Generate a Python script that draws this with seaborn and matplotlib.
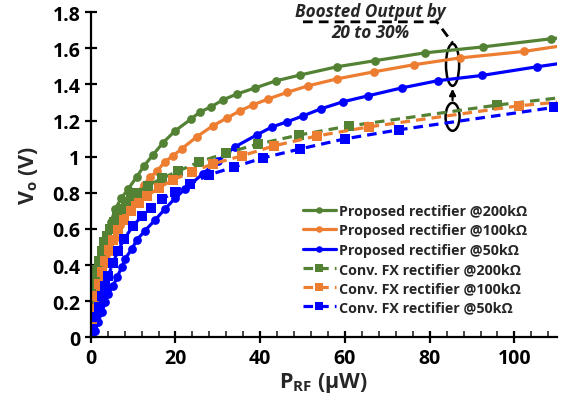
import matplotlib
matplotlib.use("Agg")
import matplotlib.pyplot as plt
import seaborn as sns
from matplotlib.patches import Ellipse

# ---------------- data ----------------
green_prop_x = [0.1, 0.4, 0.8, 1.3, 1.8, 2.4, 3.1, 3.9, 4.8, 5.8, 7.2, 8.8, 10.9, 12.6, 14.7, 17.0,
                19.9, 23.7, 25.8, 28.4, 31.2, 34.6, 38.8, 43.7, 49.5, 58.1, 67.1, 78.8, 92.5, 108.6, 127.5]
green_prop_y = [0.0, 0.08, 0.16, 0.25, 0.33, 0.41, 0.49, 0.57, 0.64, 0.71, 0.77, 0.82, 0.89, 0.95, 1.01, 1.076,
                1.143, 1.209, 1.248, 1.276, 1.315, 1.348, 1.381, 1.42, 1.453, 1.498, 1.532, 1.575, 1.608, 1.653, 1.70]

orange_prop_x = [0.2, 0.6, 1.1, 1.7, 2.3, 3.0, 3.8, 4.7, 5.7, 6.9, 8.2, 9.6, 11.0, 12.5, 14.0, 15.7, 17.5,
                 19.4, 21.5, 25.0, 28.8, 32.2, 35.2, 38.3, 41.9, 46.3, 51.2, 58.1, 66.8, 76.2, 87.1, 102.2, 120.0]
orange_prop_y = [0.0, 0.06, 0.13, 0.2, 0.27, 0.34, 0.41, 0.48, 0.55, 0.62, 0.69, 0.75, 0.8, 0.845, 0.885, 0.922, 0.972,
                 1.005, 1.044, 1.11, 1.171, 1.215, 1.254, 1.287, 1.32, 1.356, 1.392, 1.431, 1.47, 1.509, 1.547, 1.583, 1.645]

blue_prop_x = [0.3, 1.0, 1.7, 2.7, 3.4, 4.1, 5.3, 6.2, 7.4, 8.1, 9.7, 10.9, 12.8, 15.2, 17.5, 19.9, 22.2,
               26.5, 30.0, 34.0, 39.2, 42.8, 46.3, 50.1, 54.3, 59.5, 65.4, 73.4, 81.9, 92.3, 105.3, 125.0]
blue_prop_y = [0.0, 0.035, 0.085, 0.14, 0.196, 0.24, 0.284, 0.334, 0.39, 0.434, 0.489, 0.54, 0.59, 0.65, 0.71, 0.77, 0.82,
               0.906, 0.977, 1.054, 1.121, 1.165, 1.193, 1.226, 1.265, 1.304, 1.337, 1.381, 1.421, 1.45, 1.498, 1.565]

green_conv_x = [0.0, 0.1, 0.3, 0.6, 1.0, 1.5, 2.0, 2.6, 3.2, 3.9, 4.6, 5.4, 6.3, 7.2, 8.3, 9.5, 10.9,
                13.5, 16.8, 20.6, 25.5, 31.9, 39.5, 49.1, 60.9, 95.9, 130.0]
green_conv_y = [0.0, 0.14, 0.21, 0.27, 0.32, 0.37, 0.42, 0.48, 0.53, 0.56, 0.6, 0.64, 0.68, 0.71, 0.75, 0.78, 0.8,
                0.84, 0.88, 0.92, 0.97, 1.02, 1.07, 1.12, 1.17, 1.286, 1.38]

orange_conv_x = [0.0, 0.3, 0.8, 1.3, 1.9, 2.7, 3.4, 4.3, 5.3, 6.4, 7.8, 9.5, 11.4, 13.3, 16.1, 19.4,
                 23.9, 28.9, 35.7, 43.2, 53.4, 65.6, 101.0, 130.0]
orange_conv_y = [0.0, 0.085, 0.157, 0.229, 0.295, 0.362, 0.423, 0.484, 0.539, 0.595, 0.65, 0.7, 0.745, 0.783, 0.828, 0.872,
                 0.916, 0.961, 1.005, 1.06, 1.115, 1.165, 1.282, 1.346]

blue_conv_x = [0.0, 0.55, 1.2, 1.9, 2.6, 3.4, 4.1, 5.3, 6.4, 7.9, 10.0, 12.1, 14.2, 16.8, 19.9, 23.4,
               27.9, 33.8, 40.6, 49.4, 60.0, 72.7, 109.3]
blue_conv_y = [0.0, 0.045, 0.113, 0.168, 0.229, 0.284, 0.34, 0.412, 0.478, 0.545, 0.617, 0.672, 0.716, 0.766, 0.805, 0.849,
               0.899, 0.943, 0.993, 1.043, 1.099, 1.149, 1.273]

labels = ["Proposed rectifier @200kΩ", "Proposed rectifier @100kΩ", "Proposed rectifier @50kΩ",
          "Conv. FX rectifier @200kΩ", "Conv. FX rectifier @100kΩ", "Conv. FX rectifier @50kΩ"]
x_ticks = [0, 20, 40, 60, 80, 100]
y_ticks = [0, 0.2, 0.4, 0.6, 0.8, 1, 1.2, 1.4, 1.6, 1.8]
y_tick_labels = ["0", "0.2", "0.4", "0.6", "0.8", "1", "1.2", "1.4", "1.6", "1.8"]

# ---------------- style ----------------
sns.set_style("white")
FONT = "Open Sans"
plt.rcParams["font.family"] = [FONT, "DejaVu Sans"]
plt.rcParams["font.weight"] = "bold"
plt.rcParams["mathtext.fontset"] = "custom"
plt.rcParams["mathtext.rm"] = FONT + ":bold"
plt.rcParams["mathtext.it"] = FONT + ":bold:italic"
plt.rcParams["mathtext.bf"] = FONT + ":bold"

GREEN = "#548235"
ORANGE = "#ED7D31"
BLUE = "#0000FF"

fig = plt.figure(figsize=(5.67, 4.02), dpi=100)
ax = fig.add_axes([0.16, 0.1585, 0.822, 0.8085])

series = [
    (green_prop_x, green_prop_y, GREEN, "o", "-", labels[0]),
    (orange_prop_x, orange_prop_y, ORANGE, "o", "-", labels[1]),
    (blue_prop_x, blue_prop_y, BLUE, "o", "-", labels[2]),
    (green_conv_x, green_conv_y, GREEN, "s", "--", labels[3]),
    (orange_conv_x, orange_conv_y, ORANGE, "s", "--", labels[4]),
    (blue_conv_x, blue_conv_y, BLUE, "s", "--", labels[5]),
]
for xs, ys, c, m, ls, lab in series:
    sns.lineplot(x=xs, y=ys, ax=ax, color=c, marker=m, linestyle=ls, label=lab,
                 linewidth=2.3, markersize=6.3 if m == "o" else 7.5, markeredgewidth=0,
                 sort=False, estimator=None)
for line in ax.get_lines():
    if line.get_linestyle() == "--":
        line.set_dashes([3.0, 1.9])

ax.set_xlim(0, 110)
ax.set_ylim(0, 1.8)
ax.set_xticks(x_ticks)
ax.set_xticks(list(range(0, 111, 4)), minor=True)
ax.set_yticks(y_ticks)
ax.set_yticklabels(y_tick_labels)

for s in ["top", "right"]:
    ax.spines[s].set_visible(False)
for s in ["left", "bottom"]:
    ax.spines[s].set_color("black")
    ax.spines[s].set_linewidth(1.6)

ax.tick_params(axis="both", which="major", direction="inout", length=9, width=1.6,
               labelsize=14, colors="black", pad=3, left=True, bottom=True)
ax.tick_params(axis="x", which="minor", direction="in", length=4, width=1.2, bottom=True)
for t in ax.get_xticklabels() + ax.get_yticklabels():
    t.set_fontweight("bold")

ax.set_xlabel(r"P$_\mathrm{RF}$ (µW)", fontsize=15.5, fontweight="bold", labelpad=2)
ax.set_ylabel(r"V$_\mathrm{o}$ (V)", fontsize=15.5, fontweight="bold", labelpad=9)

# annotation
ax.plot([50.1, 81.7, 85.4], [1.747, 1.747, 1.63], color="black", linewidth=2.0,
        dashes=[3.5, 2.2], clip_on=False)
ax.add_patch(Ellipse((85.4, 1.509), 3.1, 0.233, fill=False, edgecolor="black", linewidth=1.8))
ax.add_patch(Ellipse((85.4, 1.221), 3.3, 0.155, fill=False, edgecolor="black", linewidth=1.8))
ax.annotate("", xy=(85.4, 1.392), xytext=(85.4, 1.298),
            arrowprops=dict(arrowstyle="-|>", color="black", lw=1.6, mutation_scale=9))
fig.text(370 / 567, 1 - 12 / 402, "Boosted Output by", ha="center", va="center",
         fontsize=12.3, fontweight="bold", fontstyle="italic")
fig.text(370 / 567, 1 - 33 / 402, "20 to 30%", ha="center", va="center",
         fontsize=12.3, fontweight="bold", fontstyle="italic")

leg = ax.legend(loc="upper left", bbox_to_anchor=(303 / 567, 1 - 205 / 402),
                bbox_transform=fig.transFigure, frameon=False, fontsize=10.3,
                handlelength=2.3, handletextpad=0.2, labelspacing=0.37,
                borderpad=0, borderaxespad=0, markerscale=0.75)
for t in leg.get_texts():
    t.set_fontweight("bold")

fig.savefig("out.png", dpi=100)
